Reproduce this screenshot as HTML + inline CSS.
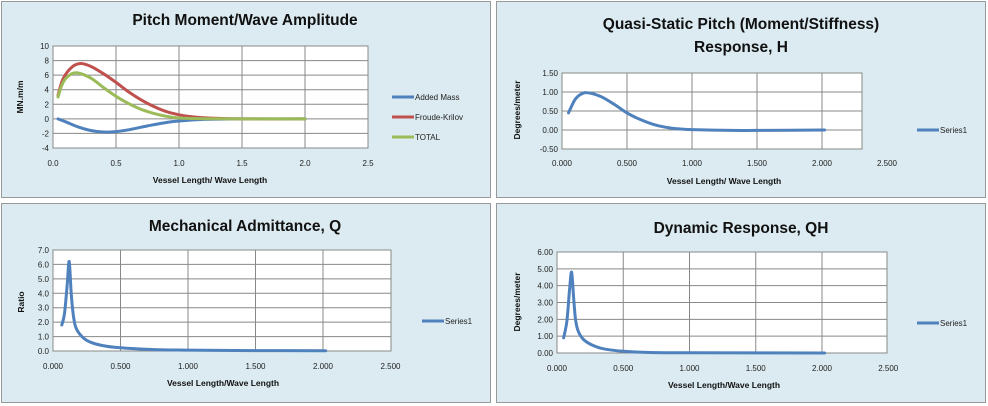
<!DOCTYPE html>
<html><head><meta charset="utf-8"><style>
html,body{margin:0;padding:0;background:#fff;}
svg{display:block;font-family:"Liberation Sans",sans-serif;}
</style></head><body>
<svg id="s" width="988" height="406" viewBox="0 0 988 406" xmlns="http://www.w3.org/2000/svg">
<rect x="0" y="0" width="988" height="406" fill="#fff"/>
<rect x="1.5" y="1.5" width="489" height="196" fill="#dbebf1" stroke="#999" stroke-width="1"/>
<rect x="496.5" y="1.5" width="489" height="196" fill="#dbebf1" stroke="#999" stroke-width="1"/>
<rect x="1.5" y="203.5" width="489" height="199" fill="#dbebf1" stroke="#999" stroke-width="1"/>
<rect x="496.5" y="203.5" width="489" height="199" fill="#dbebf1" stroke="#999" stroke-width="1"/>
<g font-weight="bold" fill="#111" text-anchor="middle" font-size="15.5">
<text x="245" y="25">Pitch Moment/Wave Amplitude</text>
<text x="741" y="29">Quasi-Static Pitch (Moment/Stiffness)</text>
<text x="741" y="52">Response,  H</text>
<text x="245" y="231">Mechanical Admittance, Q</text>
<text x="741" y="233">Dynamic Response, QH</text>
</g>
<g font-weight="bold" fill="#111" text-anchor="middle" font-size="8.5">
<text x="210" y="183">Vessel Length/ Wave Length</text>
<text x="724" y="184">Vessel Length/ Wave Length</text>
<text x="223" y="386">Vessel Length/Wave Length</text>
<text x="724" y="388">Vessel Length/Wave Length</text>
<text transform="translate(23,97) rotate(-90)">MN.m/m</text>
<text transform="translate(520,110) rotate(-90)">Degrees/meter</text>
<text transform="translate(24,302) rotate(-90)">Ratio</text>
<text transform="translate(520,302) rotate(-90)">Degrees/meter</text>
</g>
<g id="g"></g>
</svg>
<script>
var NS="http://www.w3.org/2000/svg",G=document.getElementById('g');
function el(t,a,txt){var e=document.createElementNS(NS,t);for(var k in a)e.setAttribute(k,a[k]);if(txt!=null)e.textContent=txt;G.appendChild(e);return e;}
function path(pts){var d="M"+pts[0][0]+","+pts[0][1];for(var i=0;i<pts.length-1;i++){var p0=pts[i-1]||pts[i],p1=pts[i],p2=pts[i+1],p3=pts[i+2]||p2;
d+=" C"+(p1[0]+(p2[0]-p0[0])/6)+","+(p1[1]+(p2[1]-p0[1])/6)+" "+(p2[0]-(p3[0]-p1[0])/6)+","+(p2[1]-(p3[1]-p1[1])/6)+" "+p2[0]+","+p2[1];}return d;}
function chart(c){
 var X=function(v){return c.x0+(v-c.xmin)*c.xs;},Y=function(v){return c.y1-(v-c.ymin)/(c.ymax-c.ymin)*(c.y1-c.y0);};
 el('rect',{x:c.x0,y:c.y0,width:c.x1-c.x0,height:c.y1-c.y0,fill:'#fff',stroke:'#888','stroke-width':1});
 c.yt.forEach(function(v){var y=Y(v);el('line',{x1:c.x0,x2:c.x1,y1:y,y2:y,stroke:'#888','stroke-width':1});
  el('text',{x:c.x0-4,y:y+3,'font-size':8,'text-anchor':'end',fill:'#222'},c.yf(v));});
 c.xt.forEach(function(v,i){var x=X(v);if(x<c.x1-1)el('line',{x1:x,x2:x,y1:c.y0,y2:c.y1,stroke:'#888','stroke-width':1});
  el('text',{x:(c.xl&&c.xl[i])||x,y:c.ty,'font-size':8,'text-anchor':'middle',fill:'#222'},c.xf(v));});
 c.series.forEach(function(s){var p=s.d.map(function(q){return [X(q[0]).toFixed(1),Y(q[1]).toFixed(1)].map(Number);});
  el('path',{d:path(p),fill:'none',stroke:s.c,'stroke-width':3,'stroke-linecap':'round','stroke-linejoin':'round'});});
 c.leg.forEach(function(l){el('line',{x1:l.x,x2:l.x+22,y1:l.y,y2:l.y,stroke:l.c,'stroke-width':3});
  el('text',{x:l.x+23,y:l.y+3,'font-size':8,fill:'#222'},l.t);});
}
var B='#4f81bd',R='#c0504d',Gr='#9bbb59';
chart({x0:53,x1:368,y0:46,y1:148,xmin:0,xs:126,ymin:-4,ymax:10,yt:[-4,-2,0,2,4,6,8,10],yf:function(v){return v;},
 xt:[0,0.5,1,1.5,2,2.5],xf:function(v){return v.toFixed(1);},ty:166,
 series:[{c:B,d:[[0.04,0],[0.1,-0.4],[0.2,-1.1],[0.3,-1.6],[0.4,-1.8],[0.5,-1.75],[0.6,-1.5],[0.7,-1.15],[0.8,-0.8],[0.9,-0.5],[1.0,-0.3],[1.2,-0.08],[1.5,0],[2,0]]},
 {c:R,d:[[0.04,3.2],[0.08,5.5],[0.15,7.1],[0.22,7.6],[0.3,7.2],[0.4,6.2],[0.5,5.0],[0.6,3.7],[0.7,2.6],[0.8,1.7],[0.9,1.0],[1.0,0.55],[1.1,0.3],[1.25,0.1],[1.5,0],[2.0,0]]},
 {c:Gr,d:[[0.04,3.0],[0.08,5.0],[0.14,6.1],[0.2,6.3],[0.3,5.6],[0.4,4.3],[0.5,3.1],[0.6,2.1],[0.7,1.3],[0.8,0.75],[0.9,0.35],[1.0,0.12],[1.2,0.02],[1.5,0],[2,0]]}],
 leg:[{x:392,y:97,c:B,t:'Added Mass'},{x:392,y:117,c:R,t:'Froude-Krilov'},{x:392,y:137,c:Gr,t:'TOTAL'}]});
chart({x0:562,x1:862,y0:73,y1:149,xmin:0,xs:130,ymin:-0.5,ymax:1.5,yt:[-0.5,0,0.5,1,1.5],yf:function(v){return v.toFixed(2);},
 xt:[0,0.5,1,1.5,2,2.5],xl:[0,0,0,0,0,887],xf:function(v){return v.toFixed(3);},ty:166,
 series:[{c:B,d:[[0.05,0.45],[0.1,0.8],[0.15,0.95],[0.2,0.98],[0.3,0.88],[0.4,0.68],[0.5,0.45],[0.6,0.28],[0.7,0.15],[0.8,0.07],[0.9,0.03],[1.0,0.01],[1.3,-0.01],[1.5,-0.01],[2.02,0]]}],
 leg:[{x:917,y:130,c:B,t:'Series1'}]});
chart({x0:53,x1:391,y0:250,y1:351,xmin:0,xs:135,ymin:0,ymax:7,yt:[0,1,2,3,4,5,6,7],yf:function(v){return v.toFixed(1);},
 xt:[0,0.5,1,1.5,2,2.5],xf:function(v){return v.toFixed(3);},ty:369,
 series:[{c:B,d:[[0.065,1.8],[0.085,2.6],[0.105,4.6],[0.12,6.2],[0.135,4.0],[0.15,2.5],[0.17,1.6],[0.22,0.95],[0.28,0.6],[0.38,0.35],[0.5,0.22],[0.75,0.1],[1,0.06],[1.5,0.03],[2.02,0.02]]}],
 leg:[{x:422,y:321,c:B,t:'Series1'}]});
chart({x0:557,x1:887,y0:252,y1:353,xmin:0,xs:132.5,ymin:0,ymax:6,yt:[0,1,2,3,4,5,6],yf:function(v){return v.toFixed(2);},
 xt:[0,0.5,1,1.5,2,2.5],xf:function(v){return v.toFixed(3);},ty:371,
 series:[{c:B,d:[[0.05,0.9],[0.075,1.9],[0.095,3.8],[0.11,4.8],[0.125,3.3],[0.14,2.0],[0.16,1.3],[0.2,0.8],[0.27,0.45],[0.35,0.25],[0.5,0.1],[0.7,0.03],[1,0.01],[2.02,0]]}],
 leg:[{x:917,y:323,c:B,t:'Series1'}]});
</script>
</body></html>
